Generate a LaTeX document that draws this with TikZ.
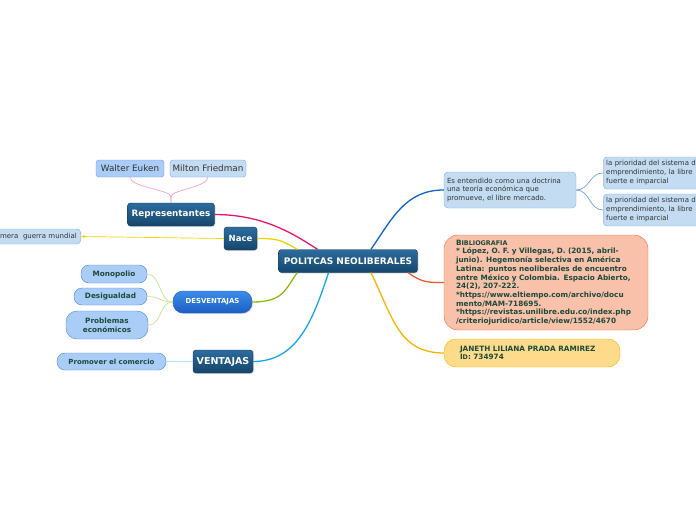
\documentclass[tikz,border=0pt]{standalone}
\usepackage{fontspec}
\setmainfont{DejaVu Sans}
\usetikzlibrary{arrows.meta,shadows}
\definecolor{temaalto}{HTML}{2C6C9D}
\definecolor{temabajo}{HTML}{16466C}
\definecolor{temaborde}{HTML}{0F3554}
\definecolor{desvalto}{HTML}{3C8CEA}
\definecolor{desvbajo}{HTML}{1C5EC4}
\definecolor{celeste}{HTML}{A9CDF7}
\definecolor{celesteborde}{HTML}{4A86E0}
\definecolor{nota}{HTML}{C3DCF2}
\definecolor{notaborde}{HTML}{7FB1E6}
\definecolor{testo}{HTML}{1B4A3A}
\definecolor{biblio}{HTML}{F9C0AA}
\definecolor{biblioborde}{HTML}{F26C3A}
\definecolor{autore}{HTML}{FEDB8B}
\definecolor{autoreborde}{HTML}{F7B500}
\definecolor{rosa}{HTML}{E8146E}
\definecolor{giallo}{HTML}{EED400}
\definecolor{verde}{HTML}{8CBC10}
\definecolor{ciano}{HTML}{14A8E8}
\definecolor{azzurro}{HTML}{1262D2}
\definecolor{rosso}{HTML}{F05A28}
\definecolor{arancio}{HTML}{F8B400}
\begin{document}
\begin{tikzpicture}[x=1pt,y=-1pt,
	tema/.style={rectangle,rounded corners=3pt,draw=temaborde,top color=temaalto,bottom color=temabajo,
		text=white,font=\fontsize{8.8}{10}\selectfont\bfseries,inner sep=2pt,minimum height=23pt,
		drop shadow={shadow xshift=1pt,shadow yshift=-1pt,opacity=0.25}},
	pastilla/.style={rectangle,rounded corners=8pt,draw=celesteborde,fill=celeste,text=testo,
		font=\fontsize{7.3}{9}\selectfont\bfseries,inner sep=2pt,minimum height=17pt,align=center},
	nome/.style={rectangle,rounded corners=3pt,draw=#1!70!blue,fill=#1,text=black!80,
		font=\fontsize{8.8}{10}\selectfont,inner sep=2pt,minimum height=17pt},
	nota/.style={rectangle,rounded corners=4pt,draw=notaborde,fill=nota,text=black!80,
		font=\fontsize{7}{8.3}\selectfont,inner sep=3pt,align=left},
	rama/.style={line width=1.3pt,draw=#1},
	ramita/.style={line width=0.7pt,draw=#1}]
	\useasboundingbox (0,0) rectangle (696,520);

	% nodo centrale
	\node [tema,minimum width=139pt,font=\fontsize{9}{10}\selectfont\bfseries] (central) at (348,261) {POLITCAS NEOLIBERALES};

	% lato sinistro
	\node [tema,minimum width=87pt] (rep) at (171,214.5) {Representantes};
	\node [nome=celeste,minimum width=68pt] (walter) at (130,168.5) {Walter Euken};
	\node [nome=nota,minimum width=76pt] (milton) at (208,168.5) {Milton Friedman};
	\node [tema,minimum width=33pt,font=\fontsize{8.5}{10}\selectfont\bfseries] (nace) at (240.5,238.5) {Nace};
	\node [nota,anchor=east,text width=92pt,align=right,minimum height=15pt,inner sep=4pt] (guerra) at (81,236.5) {mera~ guerra mundial};
	\node [tema,rounded corners=10pt,draw=desvbajo,top color=desvalto,bottom color=desvbajo,minimum width=79pt,minimum height=22pt,
		font=\fontsize{6.9}{8}\selectfont\bfseries] (desv) at (212.5,302) {DESVENTAJAS};
	\node [pastilla,minimum width=66pt,minimum height=18pt] (mono) at (114,274) {Monopolio};
	\node [pastilla,minimum width=73pt] (desig) at (110.5,296.5) {Desigualdad};
	\node [pastilla,minimum width=82pt,minimum height=28pt,rounded corners=11pt] (probl) at (107,325) {Problemas\\económicos};
	\node [tema,minimum width=60pt,font=\fontsize{9.5}{10}\selectfont\bfseries] (vent) at (223,361.5) {VENTAJAS};
	\node [pastilla,minimum width=109pt,font=\fontsize{7}{8}\selectfont\bfseries] (promo) at (111.5,361.5) {Promover el comercio};

	% lato destro
	\node [nota,text width=126pt,minimum height=36pt] (def) at (510,190) {Es entendido como una doctrina\\una teoría económica que\\promueve, el libre mercado.};
	\node [nota,anchor=west,text width=112pt,minimum height=32pt,font=\fontsize{7}{9}\selectfont] (prio1) at (603,173) {la prioridad del sistema d\\emprendimiento, la libre \\fuerte e imparcial};
	\node [nota,anchor=west,text width=112pt,minimum height=32pt,font=\fontsize{7}{9}\selectfont] (prio2) at (603,210) {la prioridad del sistema d\\emprendimiento, la libre \\fuerte e imparcial};
	\node [rectangle,rounded corners=14pt,draw=biblioborde,fill=biblio,text=testo,minimum width=204pt,minimum height=95pt,
		inner xsep=12pt,text width=180pt,align=left,font=\fontsize{7.3}{8.7}\selectfont\bfseries] (bib) at (546,282.5)
		{B{\fontsize{6.4}{8.7}\selectfont IBLIOGRAFIA}\\
		{*} López, O. F. y Villegas, D. (2015, abril-\\
		junio). Hegemonía selectiva en América\\
		Latina: puntos neoliberales de encuentro\\
		entre México y Colombia. Espacio Abierto,\\
		24(2), 207-222.\\
		{*}https://www.eltiempo.com/archivo/docu\\
		mento/MAM-718695.\\
		{*}https://revistas.unilibre.edu.co/index.php\\
		/criteriojuridico/article/view/1552/4670};
	\node [rectangle,rounded corners=12pt,draw=autoreborde,fill=autore,text=testo,minimum width=176pt,minimum height=28pt,
		inner xsep=16pt,align=left,font=\fontsize{7.3}{8.7}\selectfont\bfseries,text width=144pt] (autore) at (532,353)
		{JANETH LILIANA PRADA RAMIREZ\\I{\fontsize{6.4}{8.7}\selectfont D}: 734974};

	% rami principali
	\draw [rama=rosa] (central.159) .. controls +(-22,-14) and +(50,0) .. (rep.east);
	\draw [rama=giallo] (central.167) .. controls +(-16,-9) and +(22,0) .. (nace.east);
	\draw [rama=verde] (central.193) .. controls +(-12,16) and +(32,0) .. (desv.east);
	\draw [rama=ciano] (central.211) .. controls +(-15,45) and +(45,0) .. (vent.east);
	\draw [rama=azzurro] (central.27) .. controls +(22,-32) and +(-38,0) .. (def.west);
	\draw [rama=rosso] (central.349) .. controls +(14,10) and +(-16,0) .. (bib.west);
	\draw [rama=arancio] (central.333) .. controls +(22,45) and +(-45,0) .. (autore.west);

	% rami secondari
	\draw [ramita=rosa!40] (rep.north) -- ++(0,-6) .. controls +(0,-7) and +(0,10) .. (walter.south);
	\draw [ramita=rosa!40] (rep.north) -- ++(0,-6) .. controls +(0,-7) and +(0,10) .. (milton.south);
	\draw [ramita=giallo,-{Stealth[length=4pt]}] (nace.west) -- (guerra.east);
	\foreach \figlio in {mono,desig,probl}
		\draw [ramita=verde!45] (desv.west) .. controls +(-14,0) and +(14,0) .. (\figlio.east);
	\draw [ramita=ciano!35] (vent.west) -- (promo.east);
	\foreach \figlio in {prio1,prio2}
		\draw [ramita=azzurro!60] (def.east) .. controls +(14,0) and +(-14,0) .. (\figlio.west);
\end{tikzpicture}
\end{document}
